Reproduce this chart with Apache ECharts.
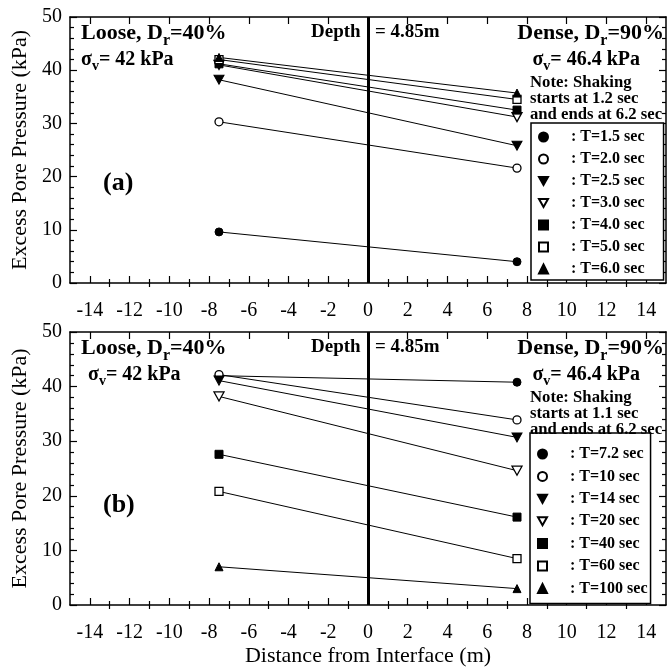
<!DOCTYPE html>
<html>
<head>
<meta charset="utf-8">
<script src="https://cdn.jsdelivr.net/npm/echarts@6/dist/echarts.min.js"></script>
<style>
html, body { margin: 0; padding: 0; background: #fff; }
#chart { width: 670px; height: 668px; }
</style>
</head>
<body>
<div id="chart"></div>
<script>
// distance of the two sensors from the interface (m)
const xPos = [-7.5, 7.5];
const xTickMajor = [-14, -12, -10, -8, -6, -4, -2, 0, 2, 4, 6, 8, 10, 12, 14];
const xTickMinor = [-13, -11, -9, -7, -5, -3, -1, 1, 3, 5, 7, 9, 11, 13];

// panel (a): excess pore pressure (kPa), [loose side, dense side]
const namesA = [': T=1.5 sec', ': T=2.0 sec', ': T=2.5 sec', ': T=3.0 sec', ': T=4.0 sec', ': T=5.0 sec', ': T=6.0 sec'];
const a_t15 = [9.6, 4.0];
const a_t20 = [30.3, 21.6];
const a_t25 = [38.2, 25.8];
const a_t30 = [41.0, 31.2];
const a_t40 = [41.2, 32.5];
const a_t50 = [42.0, 34.5];
const a_t60 = [42.4, 35.7];

// panel (b)
const namesB = [': T=7.2 sec', ': T=10 sec', ': T=14 sec', ': T=20 sec', ': T=40 sec', ': T=60 sec', ': T=100 sec'];
const b_t7 = [42.0, 40.8];
const b_t10 = [42.2, 33.9];
const b_t14 = [41.1, 30.7];
const b_t20 = [38.2, 24.6];
const b_t40 = [27.6, 16.1];
const b_t60 = [20.8, 8.5];
const b_t100 = [7.0, 3.0];

const valsA = [a_t15, a_t20, a_t25, a_t30, a_t40, a_t50, a_t60];
const valsB = [b_t7, b_t10, b_t14, b_t20, b_t40, b_t60, b_t100];

const serif = "'Liberation Serif', 'Times New Roman', serif";
const DOWN = 'path://M0,0L10,0L5,9Z';
const shapes = ['circle', 'circle', DOWN, DOWN, 'rect', 'rect', 'triangle'];
const filled = [true, false, true, false, true, false, true];

function makeSeries(names, vals, gi) {
  return names.map((n, i) => {
    const s = {
      name: n,
      type: 'line',
      xAxisIndex: gi * 4,
      yAxisIndex: gi * 2,
      data: xPos.map((x, k) => [x, vals[i][k]]),
      symbol: shapes[i],
      symbolSize: i == 2 || i == 3 ? [10, 9] : 8,
      showSymbol: true,
      lineStyle: { color: '#000', width: 1 },
      itemStyle: filled[i] ? { color: '#000', borderColor: '#000', borderWidth: 1 }
                           : { color: '#fff', borderColor: '#000', borderWidth: 1.3 },
      emphasis: { disabled: true },
      animation: false,
      z: 3
    };
    if (i == 0) {
      // thick line at the interface
      s.markLine = {
        silent: true, symbol: 'none', animation: false,
        label: { show: false },
        lineStyle: { color: '#000', width: 3, type: 'solid' },
        data: [{ xAxis: 0 }]
      };
    }
    return s;
  });
}

function xAxes(gi, name) {
  const base = { gridIndex: gi, type: 'value', min: -15, max: 15, splitLine: { show: false } };
  const tickStyle = { color: '#000', width: 1.2 };
  return [
    Object.assign({}, base, {
      position: 'bottom',
      axisLine: { show: true, onZero: false, lineStyle: { color: '#000', width: 1.5 } },
      axisTick: { show: true, inside: true, length: 7, customValues: xTickMajor, lineStyle: tickStyle },
      axisLabel: { show: true, customValues: xTickMajor, margin: 18, color: '#000', fontFamily: serif, fontSize: 20 },
      name: name, nameLocation: 'middle', nameGap: 40,
      nameTextStyle: { color: '#000', fontFamily: serif, fontSize: 22 }
    }),
    Object.assign({}, base, {
      position: 'bottom',
      axisLine: { show: false },
      axisTick: { show: true, inside: true, length: 4, customValues: xTickMinor, lineStyle: tickStyle },
      axisLabel: { show: false }
    }),
    Object.assign({}, base, {
      position: 'top',
      axisLine: { show: true, onZero: false, lineStyle: { color: '#000', width: 1.5 } },
      axisTick: { show: true, inside: true, length: 7, customValues: xTickMajor, lineStyle: tickStyle },
      axisLabel: { show: false }
    }),
    Object.assign({}, base, {
      position: 'top',
      axisLine: { show: false },
      axisTick: { show: true, inside: true, length: 4, customValues: xTickMinor, lineStyle: tickStyle },
      axisLabel: { show: false }
    })
  ];
}

function yAxes(gi) {
  const base = {
    gridIndex: gi, type: 'value', min: 0, max: 50, interval: 10, splitLine: { show: false },
    axisLine: { show: true, onZero: false, lineStyle: { color: '#000', width: 1.5 } },
    axisTick: { show: true, inside: true, length: 7, lineStyle: { color: '#000', width: 1.2 } },
    minorTick: { show: true, splitNumber: 5, length: 4, lineStyle: { color: '#000', width: 1.2 } }
  };
  return [
    Object.assign({}, base, {
      position: 'left',
      axisLabel: { show: true, margin: 8, color: '#000', fontFamily: serif, fontSize: 20 },
      name: 'Excess Pore Pressure (kPa)', nameLocation: 'middle', nameGap: 34,
      nameTextStyle: { color: '#000', fontFamily: serif, fontSize: 22 }
    }),
    Object.assign({}, base, { position: 'right', axisLabel: { show: false } })
  ];
}

function legendFor(names, left, top, pad, gap) {
  return {
    orient: 'vertical', left: left, top: top,
    data: names.map((n, i) => ({ name: n, icon: shapes[i] })),
    itemWidth: 9, itemHeight: 9, itemGap: gap,
    padding: pad,
    borderColor: '#000', borderWidth: 1.5,
    backgroundColor: '#fff',
    selectedMode: false,
    textStyle: { color: '#000', fontFamily: serif, fontWeight: 'bold', fontSize: 16, lineHeight: 16, padding: [0, 0, 0, 18] }
  };
}

// bold headings with subscript
function rich(size, sub, drop) {
  return {
    b: { fontFamily: serif, fontWeight: 'bold', fontSize: size, fill: '#000', verticalAlign: 'top' },
    s: { fontFamily: serif, fontWeight: 'bold', fontSize: sub, fill: '#000', verticalAlign: 'top', padding: [drop, 0, 0, 0] }
  };
}
function txt(x, y, text, size, align, r) {
  const st = { text: text, fill: '#000', fontFamily: serif, fontWeight: 'bold', fontSize: size, align: align || 'left', verticalAlign: 'top' };
  if (r) st.rich = r;
  return { type: 'text', x: x, y: y, z: 10, silent: true, style: st };
}
function panelTexts(dy, note2, sigmaLeftX) {
  return [
    txt(81, 22 + dy, '{b|Loose, D}{s|r}{b|=40%}', 22, 'left', rich(22, 16, 11)),
    txt(sigmaLeftX, 50 + dy, '{b|σ}{s|v}{b|= 42 kPa}', 20, 'left', rich(20, 14, 9)),
    txt(311, 23 + dy, 'Depth', 19),
    txt(375, 23 + dy, '= 4.85m', 19),
    txt(664, 22 + dy, '{b|Dense, D}{s|r}{b|=90%}', 22, 'right', rich(22, 16, 11)),
    txt(640, 50 + dy, '{b|σ}{s|v}{b|= 46.4 kPa}', 20, 'right', rich(20, 14, 9)),
    { type: 'text', x: 530, y: 75 + dy, z: 10, silent: true,
      style: { text: 'Note: Shaking\n' + note2 + '\nand ends at 6.2 sec', fill: '#000', fontFamily: serif, fontWeight: 'bold', fontSize: 16.7, lineHeight: 16 } }
  ];
}

const chart = echarts.init(document.getElementById('chart'));
chart.setOption({
  animation: false,
  backgroundColor: '#fff',
  grid: [
    { left: 70, right: 4, top: 17, height: 266 },
    { left: 70, right: 4, top: 332, height: 274 }
  ],
  xAxis: xAxes(0, '').concat(xAxes(1, 'Distance from Interface (m)')),
  yAxis: yAxes(0).concat(yAxes(1)),
  legend: [
    legendFor(namesA, 531, 123, [6, 19, 3, 7], 6),
    legendFor(namesB, 530, 433, [13, 3, 7, 7], 6.4)
  ],
  graphic: panelTexts(0, 'starts at 1.2 sec', 81)
    .concat(panelTexts(315, 'starts at 1.1 sec', 88))
    .concat([txt(103, 170, '(a)', 26), txt(103, 492, '(b)', 26)]),
  series: makeSeries(namesA, valsA, 0).concat(makeSeries(namesB, valsB, 1))
});
</script>
</body>
</html>
